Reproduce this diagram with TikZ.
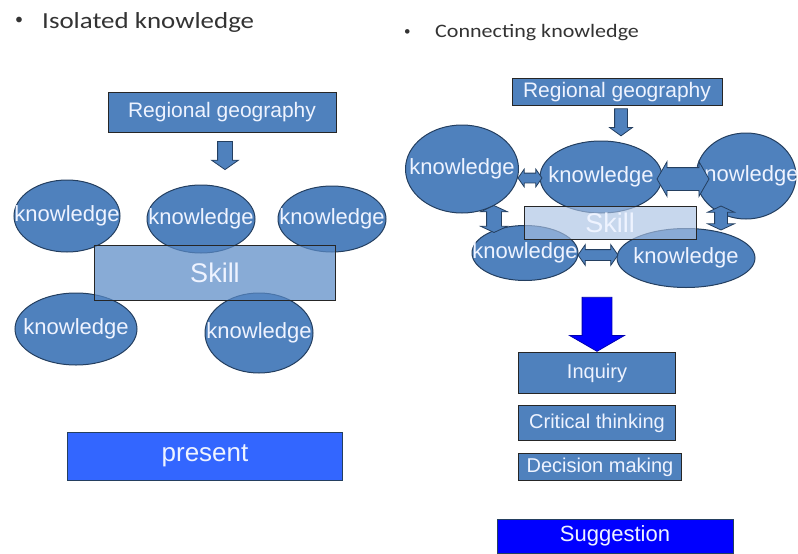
\documentclass[tikz,border=0pt]{standalone}
\usepackage{fontspec}
\setmainfont{Liberation Sans}
\newfontfamily\calibri{Carlito}
\usetikzlibrary{shapes.geometric,shapes.arrows}
\definecolor{officeblue}{HTML}{4F81BD}
\definecolor{darkrim}{HTML}{243F60}
\definecolor{paletext}{HTML}{EEF3FF}
\definecolor{skillblue}{HTML}{5A8AC6}
\definecolor{skillpale}{HTML}{A9C1E3}
\definecolor{presentblue}{HTML}{3366FF}
\definecolor{sugblue}{HTML}{0000FF}
\definecolor{headgray}{HTML}{333333}
\newcommand{\kw}{\makebox[0pt]{knowledge}}
\tikzset{
  know/.style={ellipse, draw=darkrim, fill=officeblue, line width=1pt, inner sep=0pt,
    text=paletext, font=\fontsize{22}{25}\selectfont},
  box/.style={rectangle, draw=black!85, fill=officeblue, line width=1pt, inner sep=0pt,
    text=paletext, font=\fontsize{20}{24}\selectfont},
  blockdown/.style={single arrow, shape border rotate=270, draw=darkrim, fill=officeblue,
    line width=0.8pt},
  blockboth/.style={double arrow, draw=darkrim, fill=officeblue, line width=0.8pt},
  heading/.style={anchor=west, text=headgray, inner sep=0pt},
}
\begin{document}
\begin{tikzpicture}[x=1pt,y=-1pt]
\useasboundingbox (0,0) rectangle (798,554);
% headings
\node[heading, font=\calibri\fontsize{16}{20}\selectfont] (bulL) at (15,21) {•};
\node[heading, font=\calibri\fontsize{23}{26}\selectfont, xscale=1.17] (headL) at (42,22) {Isolated knowledge};
\node[heading, font=\calibri\fontsize{13}{16}\selectfont] (bulR) at (404,33) {•};
\node[heading, font=\calibri\fontsize{19}{22}\selectfont, xscale=1.16] (headR) at (435,33) {Connecting knowledge};
% isolated knowledge
\node[know, minimum width=106, minimum height=72] (kA) at (67,216) {\kw};
\node[know, minimum width=108, minimum height=68] (kB) at (201,219) {\kw};
\node[know, minimum width=108, minimum height=66] (kC) at (332,219) {\kw};
\node[know, minimum width=122, minimum height=72] (kD) at (76,329) {\kw};
\node[know, minimum width=108, minimum height=80] (kE) at (259,333) {\kw};
\node[box, fill=skillblue, fill opacity=0.72, text opacity=1, minimum width=241, minimum height=55,
  font=\fontsize{27}{30}\selectfont] (skillL) at (215,273) {Skill};
\node[box, minimum width=228, minimum height=40, font=\fontsize{21}{24}\selectfont] (regL) at (222,112) {Regional geography};
\node[blockdown, minimum height=28, inner sep=7, single arrow head extend=6,
  single arrow tip angle=110] (downL) at (225,153) {};
\node[box, fill=presentblue, draw=darkrim, minimum width=275, minimum height=48,
  font=\fontsize{26}{30}\selectfont] (present) at (205,456) {present};
% connecting knowledge
\node[box, minimum width=210, minimum height=27, font=\fontsize{21}{24}\selectfont] (regR) at (617,92) {Regional geography};
\node[blockdown, minimum height=27, inner sep=6, single arrow head extend=5,
  single arrow tip angle=108] (downR) at (621,120) {};
\node[know, minimum width=113, minimum height=88] (kP) at (462,169) {\kw};
\node[know, minimum width=122, minimum height=72] (kQ) at (601,177) {\kw};
\node[know, minimum width=100, minimum height=86] (kR) at (746,176) {\kw};
\node[know, minimum width=106, minimum height=55] (kS) at (525,253) {\kw};
\node[know, minimum width=138, minimum height=59] (kT) at (686,258) {\kw};
\node[box, fill=skillpale, fill opacity=0.65, text opacity=1, minimum width=172, minimum height=33,
  font=\fontsize{27}{30}\selectfont] (skillR) at (610,223) {Skill};
\node[blockboth, minimum height=24, inner sep=4.5, double arrow head extend=4,
  double arrow tip angle=110] (dPQ) at (530,178) {};
\node[blockboth, minimum height=52, inner sep=11, double arrow head extend=6,
  double arrow tip angle=120] (dQR) at (683,179) {};
\node[blockboth, minimum height=40, inner sep=5, double arrow head extend=5,
  double arrow tip angle=110] (dST) at (598,255) {};
\node[blockboth, shape border rotate=90, minimum height=27, inner sep=7, double arrow head extend=6,
  double arrow tip angle=130] (dPS) at (494,219) {};
\node[blockboth, shape border rotate=90, minimum height=24, inner sep=6, double arrow head extend=7,
  double arrow tip angle=130] (dRT) at (721,218) {};
\node[blockdown, fill=sugblue, draw=sugblue!70!black, minimum height=54, inner sep=14.5,
  single arrow head extend=12.5, single arrow tip angle=120] (bigdown) at (597,320) {};
\node[box, minimum width=157, minimum height=41] (inquiry) at (597,373) {Inquiry};
\node[box, minimum width=157, minimum height=35] (critical) at (597,423) {Critical thinking};
\node[box, minimum width=163, minimum height=27] (decision) at (600,467) {Decision making};
\node[box, fill=sugblue, draw=darkrim, minimum width=236, minimum height=34,
  font=\fontsize{22}{26}\selectfont] (suggest) at (615,536) {Suggestion};
\end{tikzpicture}
\end{document}
